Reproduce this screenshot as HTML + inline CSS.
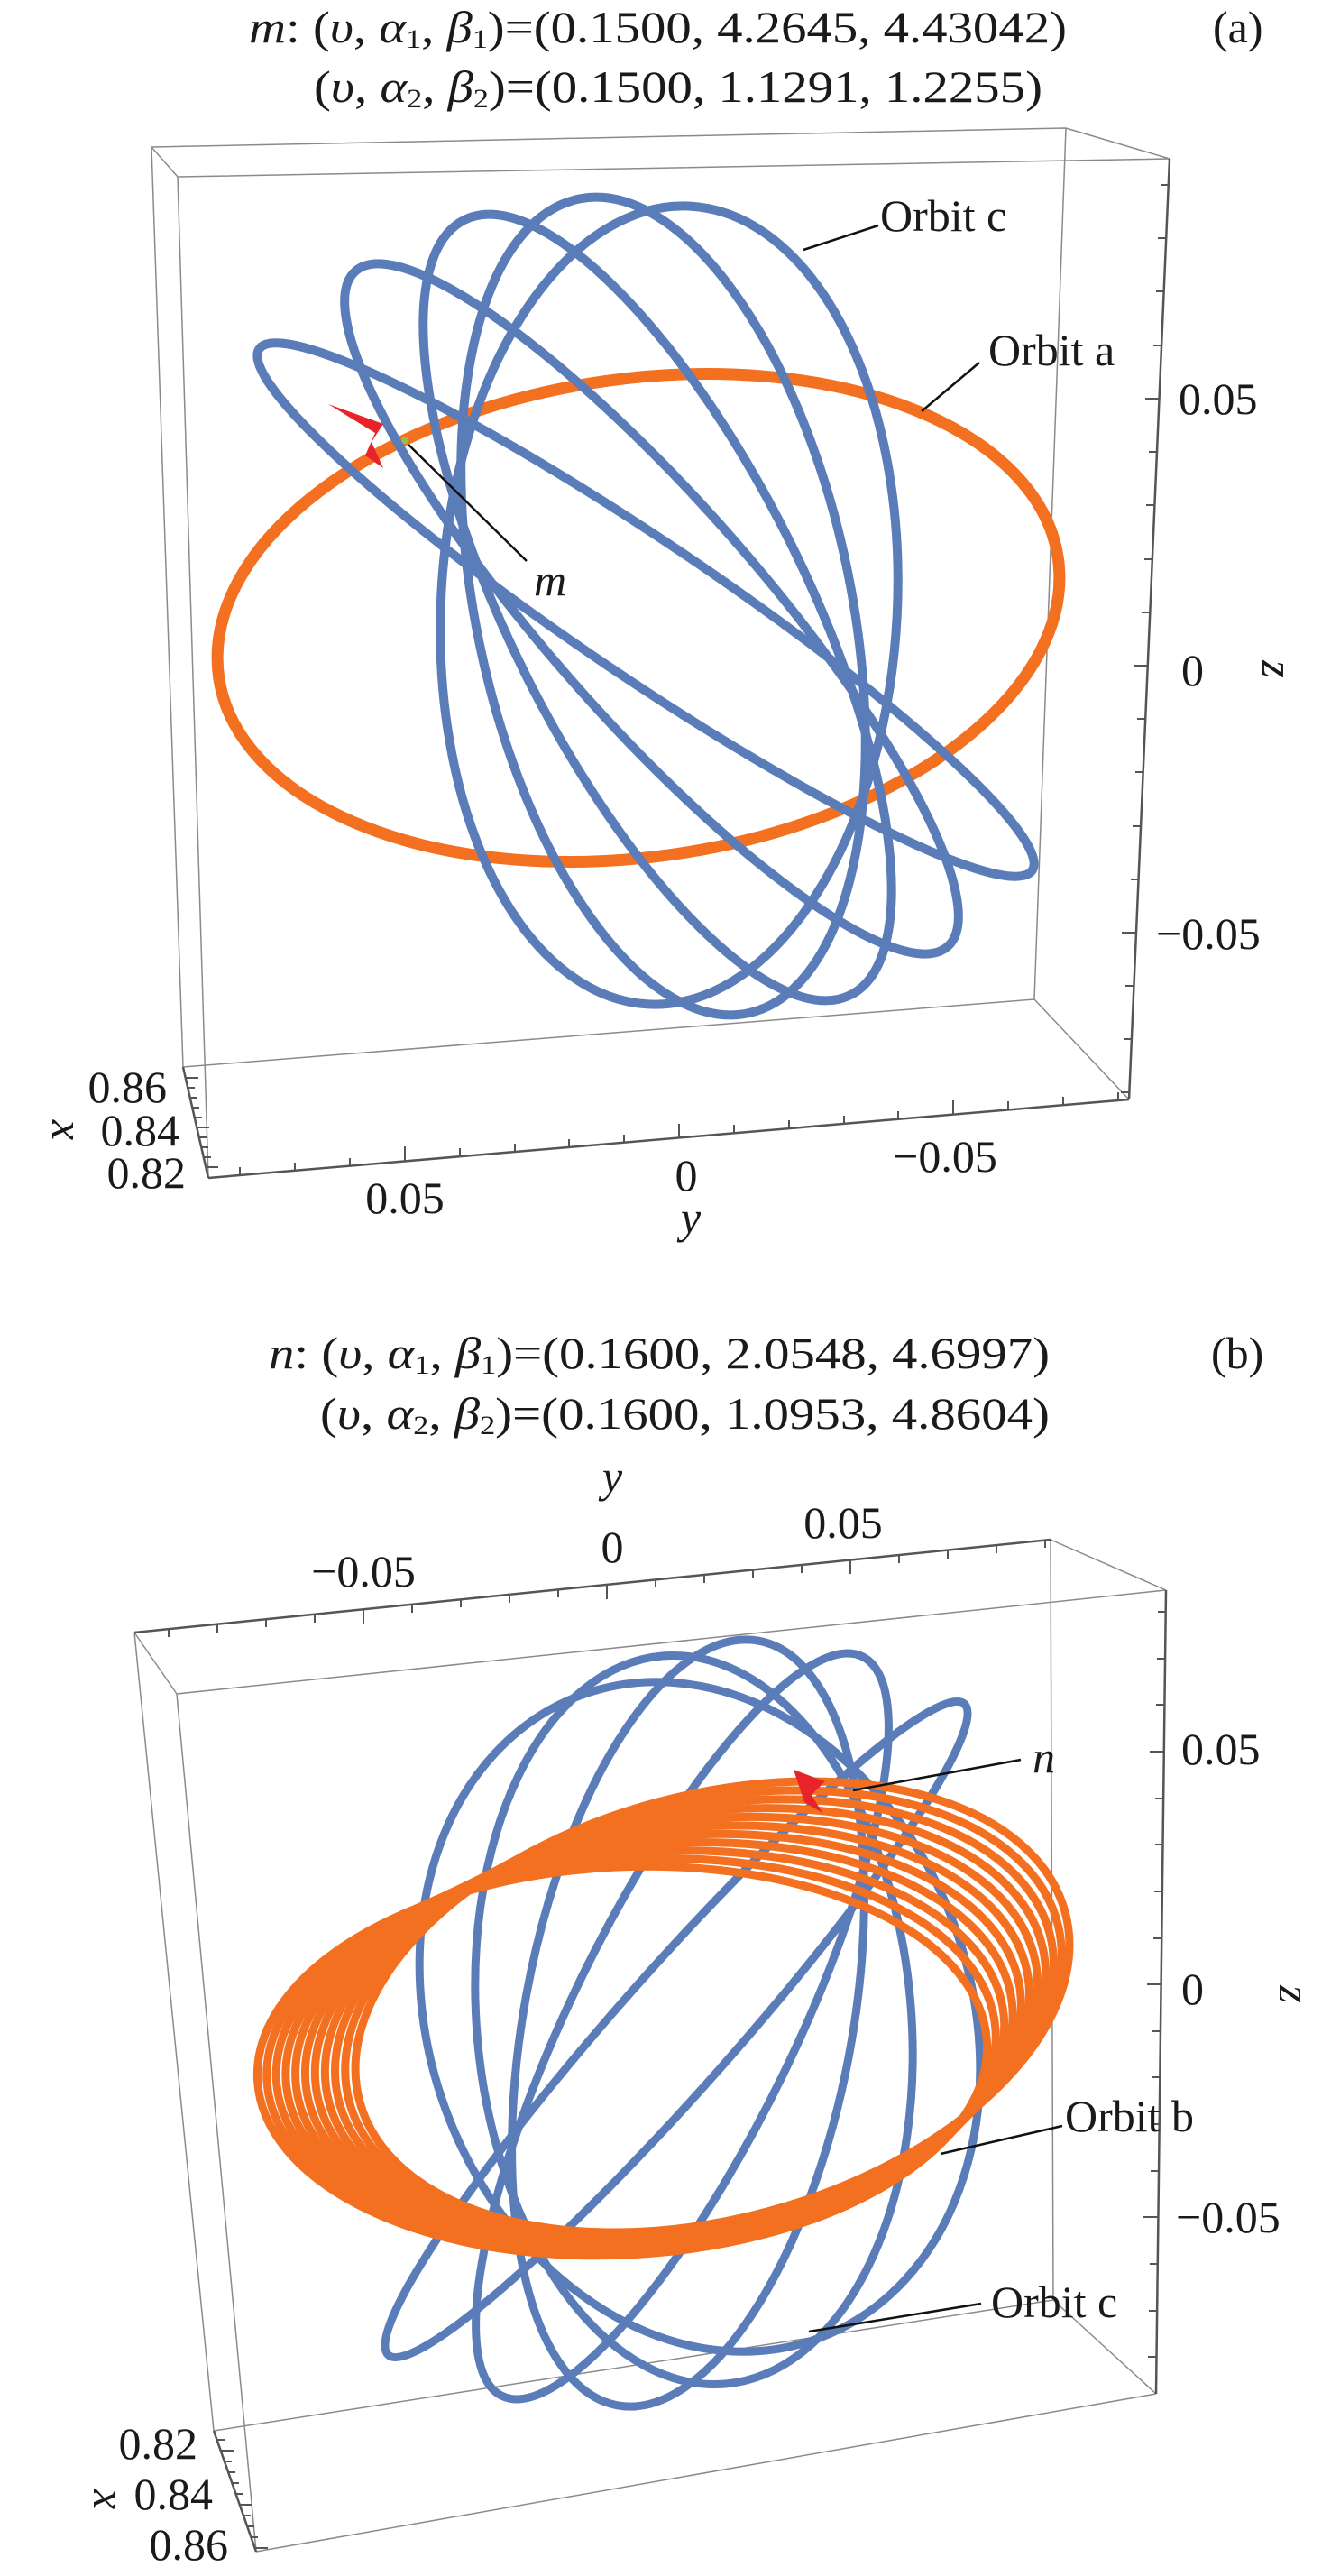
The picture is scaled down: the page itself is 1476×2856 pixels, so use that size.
<!DOCTYPE html>
<html><head><meta charset="utf-8"><style>
html,body{margin:0;padding:0;background:#fff;}
svg{display:block;}
text{font-family:"Liberation Serif","DejaVu Serif",serif;fill:#1a1a1a;}
</style></head><body>
<svg width="1476" height="2856" viewBox="0 0 1476 2856" xmlns="http://www.w3.org/2000/svg">
<!-- ===== Panel (a) ===== -->
<g font-size="50">
<text x="276" y="47" textLength="907" lengthAdjust="spacingAndGlyphs"><tspan font-style="italic">m</tspan>: (<tspan font-style="italic">υ</tspan>, <tspan font-style="italic">α</tspan><tspan font-size="30" dy="6">1</tspan><tspan dy="-6">, </tspan><tspan font-style="italic">β</tspan><tspan font-size="30" dy="6">1</tspan><tspan dy="-6">)=(0.1500, 4.2645, 4.43042)</tspan></text>
<text x="348" y="113" textLength="808" lengthAdjust="spacingAndGlyphs">(<tspan font-style="italic">υ</tspan>, <tspan font-style="italic">α</tspan><tspan font-size="30" dy="6">2</tspan><tspan dy="-6">, </tspan><tspan font-style="italic">β</tspan><tspan font-size="30" dy="6">2</tspan><tspan dy="-6">)=(0.1500, 1.1291, 1.2255)</tspan></text>
<text x="1345" y="47">(a)</text>
</g>
<g stroke="#8a8a8a" stroke-width="1.5" fill="none">
<path d="M168 163L1182 142M197 196L1297 176M168 163L197 196M1182 142L1297 176M168 163L203 1183M197 196L231 1306M1182 142L1147 1108M203 1183L1147 1108M1147 1108L1252 1219"/>
</g>
<g stroke="#555" stroke-width="2.5" fill="none">
<path d="M1297 176L1252 1219M231 1306L1252 1219M203 1183L231 1306"/>
<path stroke-width="2" d="M1296 205h-9M1293 264h-9M1291 323h-9M1288 383h-9M1286 442h-16M1283 501h-9M1280 560h-9M1278 620h-9M1275 679h-9M1273 738h-16M1270 797h-9M1268 856h-9M1265 916h-9M1263 975h-9M1260 1034h-16M1257 1093h-9M1255 1152h-9M1252 1211h-9"/>
<path stroke-width="2" d="M266 1303v-9M327 1298v-9M388 1293v-9M449 1287v-16M510 1282v-9M571 1277v-9M631 1272v-9M692 1267v-9M753 1262v-16M814 1256v-9M875 1251v-9M936 1246v-9M996 1241v-9M1057 1236v-16M1118 1230v-9M1179 1225v-9M1240 1220v-9"/>
<path stroke-width="2" d="M206 1195h14M208 1206h8M211 1217h8M213 1228h8M216 1239h8M218 1250h14M221 1261h8M223 1272h8M226 1283h8M228 1294h14"/>
</g>
<!-- orbit a -->
<ellipse cx="708" cy="685" rx="470" ry="265" transform="rotate(-8 708 685)" fill="none" stroke="#F37021" stroke-width="13"/>
<!-- orbit c (a) -->
<g fill="none" stroke="#5A7DB9" stroke-width="10">
<ellipse cx="742" cy="671" rx="443" ry="253" transform="rotate(93 742 671)"/>
<ellipse cx="735.5" cy="672" rx="461" ry="208" transform="rotate(78.25 735.5 672)"/>
<ellipse cx="729" cy="673.5" rx="480" ry="164" transform="rotate(63.5 729 673.5)"/>
<ellipse cx="722.5" cy="675" rx="498" ry="119" transform="rotate(48.75 722.5 675)"/>
<ellipse cx="716" cy="676" rx="517" ry="75" transform="rotate(34 716 676)"/>
</g>
<path d="M364 448L425 470L412 490L425 519L405 505L416 480Z" fill="#E8242B"/>
<circle cx="449" cy="488" r="4" fill="#8BC34A"/>
<g stroke="#111" stroke-width="2.5">
<line x1="891" y1="277" x2="974" y2="250"/>
<line x1="1022" y1="456" x2="1086" y2="402"/>
<line x1="453" y1="493" x2="584" y2="622"/>
</g>
<g font-size="50">
<text x="976" y="256">Orbit c</text>
<text x="1096" y="405">Orbit a</text>
<text x="592" y="660" font-style="italic">m</text>
<text x="1307" y="459">0.05</text>
<text x="1310" y="760">0</text>
<text x="1282" y="1052">−0.05</text>
<text x="1400" y="742" font-style="italic" transform="rotate(90 1400 742)" text-anchor="middle">z</text>
<text x="185" y="1222" text-anchor="end">0.86</text>
<text x="199" y="1270" text-anchor="end">0.84</text>
<text x="206" y="1317" text-anchor="end">0.82</text>
<text x="58" y="1253" font-style="italic" transform="rotate(90 58 1253)" text-anchor="middle">x</text>
<text x="449" y="1345" text-anchor="middle">0.05</text>
<text x="761" y="1320" text-anchor="middle">0</text>
<text x="1048" y="1299" text-anchor="middle">−0.05</text>
<text x="766" y="1367" font-style="italic" text-anchor="middle">y</text>
</g>

<!-- ===== Panel (b) ===== -->
<g font-size="50">
<text x="298" y="1517" textLength="866" lengthAdjust="spacingAndGlyphs"><tspan font-style="italic">n</tspan>: (<tspan font-style="italic">υ</tspan>, <tspan font-style="italic">α</tspan><tspan font-size="30" dy="6">1</tspan><tspan dy="-6">, </tspan><tspan font-style="italic">β</tspan><tspan font-size="30" dy="6">1</tspan><tspan dy="-6">)=(0.1600, 2.0548, 4.6997)</tspan></text>
<text x="355" y="1584" textLength="809" lengthAdjust="spacingAndGlyphs">(<tspan font-style="italic">υ</tspan>, <tspan font-style="italic">α</tspan><tspan font-size="30" dy="6">2</tspan><tspan dy="-6">, </tspan><tspan font-style="italic">β</tspan><tspan font-size="30" dy="6">2</tspan><tspan dy="-6">)=(0.1600, 1.0953, 4.8604)</tspan></text>
<text x="1343" y="1517">(b)</text>
</g>
<g stroke="#8a8a8a" stroke-width="1.5" fill="none">
<path d="M149 1810L196 1878M1165 1707L1293 1763M196 1878L1293 1763M1165 1707L1168 2550M149 1810L237 2695M196 1878L284 2829M237 2695L1168 2550M284 2829L1282 2654M1168 2550L1282 2654"/>
</g>
<g stroke="#555" stroke-width="2.5" fill="none">
<path d="M149 1810L1165 1707M1293 1763L1282 2654M237 2695L284 2829"/>
<path stroke-width="2" d="M187 1806v9M241 1801v9M295 1795v9M349 1790v9M403 1784v16M457 1779v9M511 1773v9M565 1768v9M619 1762v9M673 1757v16M727 1751v9M781 1746v9M835 1740v9M889 1735v9M943 1729v16M997 1724v9M1051 1719v9M1105 1713v9M1159 1707v9"/>
<path stroke-width="2" d="M1293 1787h-9M1292 1839h-9M1291 1890h-9M1291 1942h-16M1290 1994h-9M1290 2045h-9M1289 2097h-9M1288 2149h-9M1288 2200h-16M1287 2252h-9M1286 2303h-9M1286 2355h-9M1285 2407h-9M1284 2458h-16M1284 2510h-9M1283 2562h-9M1282 2613h-9"/>
<path stroke-width="2" d="M241 2705h8M245 2717h14M249 2729h8M253 2741h8M257 2753h8M262 2765h8M266 2777h14M270 2789h8M274 2801h8M278 2813h8M283 2825h14"/>
</g>
<!-- orbit c (b) -->
<g fill="none" stroke="#5A7DB9" stroke-width="9">
<ellipse cx="750" cy="2250" rx="482" ry="65" transform="rotate(131.5 750 2250)"/>
<ellipse cx="756.5" cy="2246.5" rx="456" ry="124" transform="rotate(116 756.5 2246.5)"/>
<ellipse cx="763" cy="2243" rx="431" ry="182" transform="rotate(100.5 763 2243)"/>
<ellipse cx="769.5" cy="2239.5" rx="405" ry="241" transform="rotate(85 769.5 2239.5)"/>
<ellipse cx="776" cy="2236" rx="380" ry="300" transform="rotate(69.6 776 2236)"/>
</g>
<!-- orbit b -->
<g fill="none" stroke="#F37021" stroke-width="9">
<ellipse cx="690" cy="2285" rx="405" ry="215" transform="rotate(-3 690 2285)"/>
<ellipse cx="700" cy="2279" rx="405" ry="217" transform="rotate(-4.2 700 2279)"/>
<ellipse cx="710" cy="2273" rx="405" ry="219" transform="rotate(-5.4 710 2273)"/>
<ellipse cx="720" cy="2267" rx="405" ry="221" transform="rotate(-6.6 720 2267)"/>
<ellipse cx="730" cy="2261" rx="405" ry="223" transform="rotate(-7.8 730 2261)"/>
<ellipse cx="740" cy="2255" rx="405" ry="225" transform="rotate(-9 740 2255)"/>
<ellipse cx="750" cy="2249" rx="405" ry="227" transform="rotate(-10.2 750 2249)"/>
<ellipse cx="760" cy="2243" rx="405" ry="229" transform="rotate(-11.4 760 2243)"/>
<ellipse cx="770" cy="2237" rx="405" ry="231" transform="rotate(-12.6 770 2237)"/>
<ellipse cx="780" cy="2231" rx="405" ry="233" transform="rotate(-13.8 780 2231)"/>
<ellipse cx="790" cy="2225" rx="405" ry="235" transform="rotate(-15 790 2225)"/>
</g>
<path d="M880 1962L915 1975L900 1990L912 2010L892 1998Z" fill="#E8242B"/>
<g stroke="#111" stroke-width="2.5">
<line x1="946" y1="1985" x2="1132" y2="1951"/>
<line x1="1043" y1="2388" x2="1178" y2="2357"/>
<line x1="897" y1="2585" x2="1088" y2="2554"/>
</g>
<g font-size="50">
<text x="1145" y="1965" font-style="italic">n</text>
<text x="1181" y="2363">Orbit b</text>
<text x="1099" y="2569">Orbit c</text>
<text x="679" y="1654" font-style="italic" text-anchor="middle">y</text>
<text x="679" y="1732" text-anchor="middle">0</text>
<text x="403" y="1759" text-anchor="middle">−0.05</text>
<text x="935" y="1705" text-anchor="middle">0.05</text>
<text x="1310" y="1956">0.05</text>
<text x="1310" y="2222">0</text>
<text x="1304" y="2475">−0.05</text>
<text x="1419" y="2211" font-style="italic" transform="rotate(90 1419 2211)" text-anchor="middle">z</text>
<text x="219" y="2726" text-anchor="end">0.82</text>
<text x="236" y="2782" text-anchor="end">0.84</text>
<text x="253" y="2838" text-anchor="end">0.86</text>
<text x="104" y="2771" font-style="italic" transform="rotate(90 104 2771)" text-anchor="middle">x</text>
</g>
</svg>
</body></html>
